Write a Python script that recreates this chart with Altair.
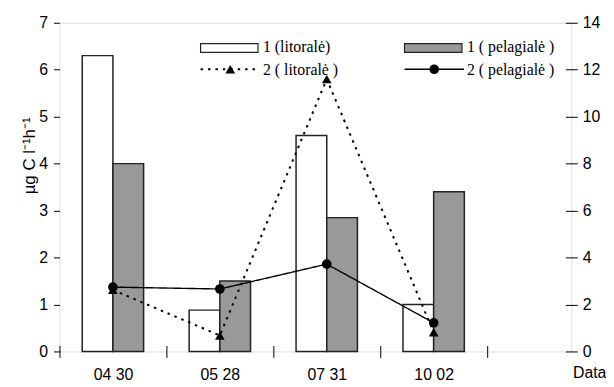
import altair as alt
import pandas as pd

# ---- data ----
dates = ["04 30", "05 28", "07 31", "10 02"]
bar_series = ["1 (litoralė)", "1 ( pelagialė )"]
bar_litoral = [6.3, 0.88, 4.6, 1.0]
bar_pelagial = [4.0, 1.5, 2.85, 3.4]

line_series = ["2 ( litoralė )", "2 ( pelagialė )"]
line_litoral = [2.62, 0.68, 11.6, 0.82]
line_pelagial = [2.74, 2.66, 3.72, 1.22]

left_ticks = [0, 1, 2, 3, 4, 5, 6, 7]
right_ticks = [0, 2, 4, 6, 8, 10, 12, 14]

bar_df = pd.DataFrame({
    "date": dates * 2,
    "series": [bar_series[0]] * 4 + [bar_series[1]] * 4,
    "value": bar_litoral + bar_pelagial,
})
line_df = pd.DataFrame({
    "date": dates * 2,
    "series": [line_series[0]] * 4 + [line_series[1]] * 4,
    "value": line_litoral + line_pelagial,
})

SANS = "Liberation Sans"
SERIF = "Liberation Serif"
W, H = 517, 332
OX = 59.5  # left edge of plot area in the page (for legend offsets)

x_scale = alt.Scale(paddingInner=0, paddingOuter=0.394, align=0)
x_enc = alt.X(
    "date:N", sort=dates, scale=x_scale,
    axis=alt.Axis(
        orient="bottom", offset=-6, domain=False, tickSize=12, tickBand="extent",
        tickColor="black", labelAngle=0, labelFont=SANS, labelFontSize=16,
        labelColor="black", labelPadding=9, title="Data", titleFont=SANS,
        titleFontSize=16, titleFontWeight="normal", titleColor="black",
        titleX=535, titleY=19, titleAlign="center", titleBaseline="top",
    ),
)

bars = alt.Chart(bar_df).mark_bar(stroke="#222222", strokeWidth=1.5).encode(
    x=x_enc,
    xOffset=alt.XOffset("series:N", sort=bar_series,
                        scale=alt.Scale(paddingInner=0, paddingOuter=0.742)),
    y=alt.Y("value:Q", scale=alt.Scale(domain=[0, 7], nice=False),
            axis=alt.Axis(orient="left", values=left_ticks, domain=False, grid=False,
                          tickSize=6, tickColor="black", labelFont=SANS,
                          labelFontSize=16, labelColor="black", labelPadding=6,
                          title="µg C l⁻¹h⁻¹", titleFont=SANS, titleFontSize=17,
                          titleFontWeight="normal", titleColor="black",
                          titleAngle=-90, titleX=-30, titleY=134,
                          titleAlign="center", titleBaseline="middle")),
    fill=alt.Fill("series:N", scale=alt.Scale(domain=bar_series, range=["white", "#999999"]),
                  legend=None),
)

y_right = alt.Y("value:Q", scale=alt.Scale(domain=[0, 14], nice=False),
                axis=alt.Axis(orient="right", values=right_ticks, domain=False, grid=False,
                              offset=-6, tickSize=12, tickColor="black",
                              labelFont=SANS, labelFontSize=16, labelColor="black",
                              labelPadding=5, title=None))

lines = alt.Chart(line_df).mark_line(color="black").encode(
    x=alt.X("date:N", sort=dates),
    y=y_right,
    detail="series:N",
    strokeDash=alt.StrokeDash("series:N", scale=alt.Scale(domain=line_series,
                              range=[[2.5, 5], [1, 0]]), legend=None),
    strokeWidth=alt.StrokeWidth("series:N", scale=alt.Scale(domain=line_series,
                                range=[2, 1.4]), legend=None),
)
points = alt.Chart(line_df).mark_point(filled=True, color="black", size=95, opacity=1).encode(
    x=alt.X("date:N", sort=dates),
    y=alt.Y("value:Q"),
    shape=alt.Shape("series:N", scale=alt.Scale(domain=line_series,
                    range=["triangle-up", "circle"]), legend=None),
)
line_layer = alt.layer(lines, points)

# ---- manual legend (pixel positions inside the plot area) ----
def one(label):
    return alt.Chart(pd.DataFrame({"label": [label]}))

leg = []
for lab, fill, xa in [(bar_series[0], "white", 202), (bar_series[1], "#999999", 408)]:
    x0 = xa - OX
    leg.append(one(lab).mark_rect(fill=fill, stroke="#222222", strokeWidth=1.2).encode(
        x=alt.value(x0), x2=alt.value(x0 + 58), y=alt.value(21), y2=alt.value(30)))
    leg.append(one(lab).mark_text(font=SERIF, fontSize=16, align="left", baseline="middle",
                                  color="black").encode(
        text="label:N", x=alt.value(x0 + 63), y=alt.value(25)))
for lab, dash, sw, shape, xa in [(line_series[0], [2.5, 5], 2, "triangle-up", 202),
                                 (line_series[1], [1, 0], 1.4, "circle", 408)]:
    x0 = xa - OX
    leg.append(one(lab).mark_rule(color="black", strokeWidth=sw, strokeDash=dash).encode(
        x=alt.value(x0), x2=alt.value(x0 + 60), y=alt.value(47)))
    leg.append(one(lab).mark_point(filled=True, color="black", size=95, shape=shape,
                                   opacity=1).encode(
        x=alt.value(x0 + 30), y=alt.value(47)))
    leg.append(one(lab).mark_text(font=SERIF, fontSize=16, align="left", baseline="middle",
                                  color="black").encode(
        text="label:N", x=alt.value(x0 + 63), y=alt.value(48)))

chart = alt.layer(bars, line_layer, *leg).resolve_scale(y="independent").properties(
    width=W, height=H,
    autosize=alt.AutoSizeParams(type="none"),
    padding={"left": 52, "top": 13, "right": 35, "bottom": 33},
).configure_view(stroke="black", strokeWidth=1.2).configure(background="white")

chart.save("out.html", embed_options={"renderer": "svg", "actions": False})
